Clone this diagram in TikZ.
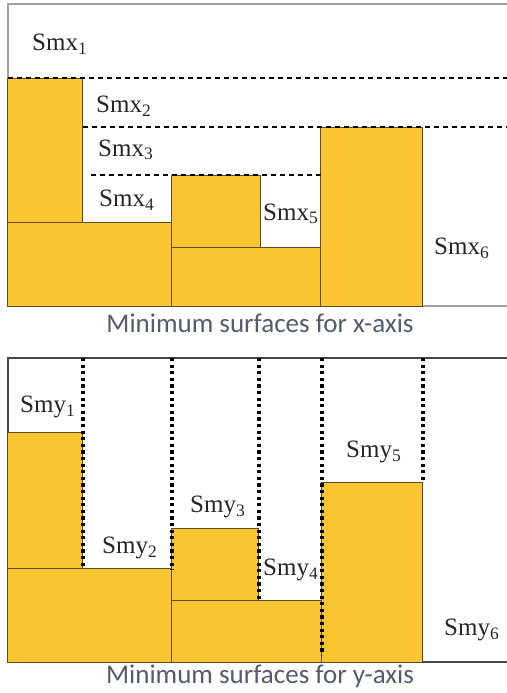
\documentclass[tikz,border=0pt]{standalone}
\usepackage{fontspec}
\setmainfont{Liberation Serif}
\newfontfamily\capfont{Carlito}
\definecolor{gold}{RGB}{251,197,49}
\definecolor{edge}{RGB}{95,75,35}
\definecolor{capgray}{RGB}{82,92,108}
\definecolor{framegray}{RGB}{160,160,160}
\definecolor{framedark}{RGB}{70,70,70}

\begin{document}
\begin{tikzpicture}[x=0.5pt, y=-0.5pt,
    block/.style={fill=gold, draw=edge, line width=0.5pt},
    dashline/.style={line width=1.2pt, dash pattern=on 2.5pt off 2pt},
    dotline/.style={line width=1.7pt, dash pattern=on 1.6pt off 1.7pt},
    lbl/.style={inner sep=0pt, text=black!85, font=\fontsize{12.5}{14}\selectfont},
    caption/.style={inner sep=0pt, text=capgray, font=\capfont\fontsize{13.5}{16}\selectfont}]
  \useasboundingbox (0,0) rectangle (507,693);

  % minimum surfaces along x
  \draw[framegray, line width=1pt] (507,4) -- (8,4) -- (8,306) -- (507,306);
  \draw[block] (8,78) rectangle (83,222);
  \draw[block] (8,222) rectangle (172,306);
  \draw[block] (172,175) rectangle (261,247);
  \draw[block] (172,247) rectangle (321,306);
  \draw[block] (321,127) rectangle (423,306);

  \draw[dashline] (8,78) -- (507,78);
  \draw[dashline] (83,127) -- (507,127);
  \draw[dashline] (91,175) -- (321,175);

  \node[lbl] (smx1) at (60,44) {Smx\textsubscript{1}};
  \node[lbl] (smx2) at (124,106) {Smx\textsubscript{2}};
  \node[lbl] (smx3) at (126,150) {Smx\textsubscript{3}};
  \node[lbl] (smx4) at (127,200) {Smx\textsubscript{4}};
  \node[lbl] (smx5) at (291,214) {Smx\textsubscript{5}};
  \node[lbl] (smx6) at (462,248) {Smx\textsubscript{6}};

  \node[caption] (capx) at (260,323) {Minimum surfaces for x-axis};

  % minimum surfaces along y
  \draw[framedark, line width=1pt] (507,358) -- (8,358) -- (8,662) -- (507,662);
  \draw[block] (8,432) rectangle (83,568);
  \draw[block] (8,568) rectangle (172,662);
  \draw[block] (172,528) rectangle (259,600);
  \draw[block] (172,600) rectangle (322,662);
  \draw[block] (322,482) rectangle (423,662);

  \draw[dotline] (83,358) -- (83,568);
  \draw[dotline] (172,358) -- (172,570);
  \draw[dotline] (259,358) -- (259,600);
  \draw[dotline] (322,358) -- (322,655);
  \draw[dotline] (423,358) -- (423,482);

  \node[lbl] (smy1) at (48,407) {Smy\textsubscript{1}};
  \node[lbl] (smy2) at (130,548) {Smy\textsubscript{2}};
  \node[lbl] (smy3) at (218,507) {Smy\textsubscript{3}};
  \node[lbl] (smy4) at (291,570) {Smy\textsubscript{4}};
  \node[lbl] (smy5) at (374,452) {Smy\textsubscript{5}};
  \node[lbl] (smy6) at (472,630) {Smy\textsubscript{6}};

  \node[caption] (capy) at (260,676) {Minimum surfaces for y-axis};
\end{tikzpicture}
\end{document}
